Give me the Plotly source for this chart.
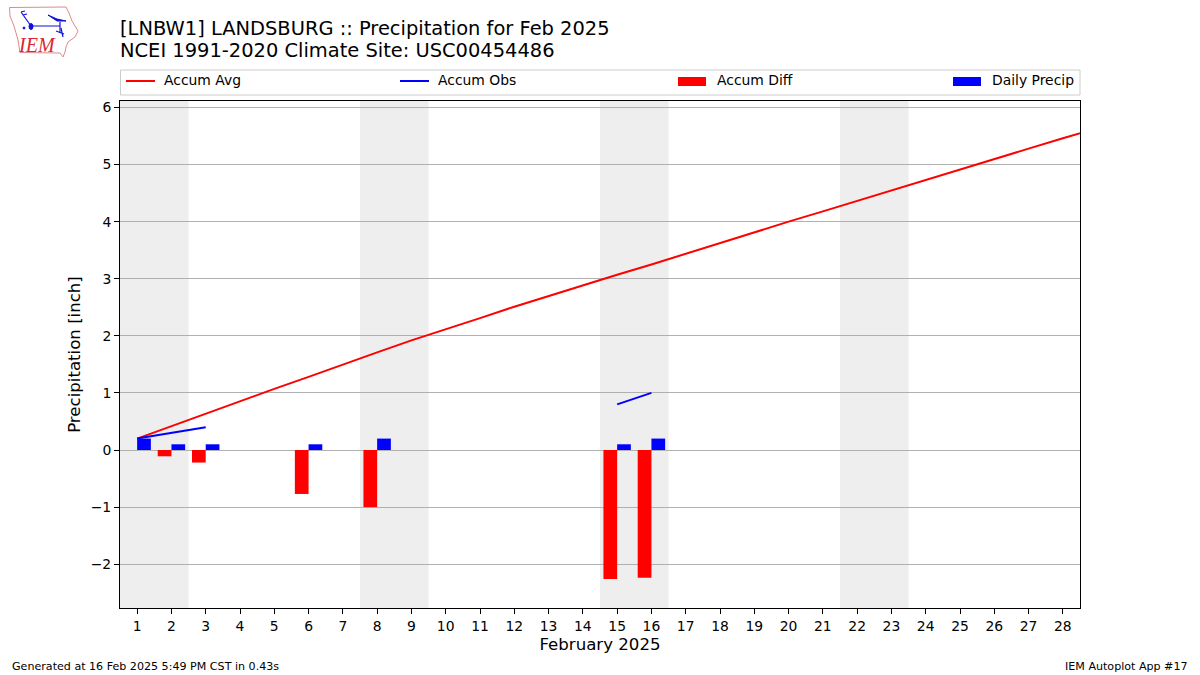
import base64

import plotly.graph_objects as go

FONT = "DejaVu Sans"

days = list(range(1, 30))
tick_days = list(range(1, 29))
accum_avg = [0.20, 0.42, 0.64, 0.85, 1.07, 1.28, 1.50, 1.71, 1.92, 2.11,
             2.31, 2.51, 2.70, 2.89, 3.07, 3.25, 3.44, 3.63, 3.81, 4.00,
             4.18, 4.365, 4.55, 4.73, 4.92, 5.10, 5.28, 5.46, 5.64]

obs_days = [1, 2, 3, None, 15, 16]
accum_obs = [0.2, 0.3, 0.4, None, 0.8, 1.0]

precip_days = [1, 2, 3, 6, 8, 15, 16]
daily_precip = [0.2, 0.1, 0.1, 0.1, 0.2, 0.1, 0.2]
accum_diff = [0.0, -0.11, -0.22, -0.77, -1.0, -2.26, -2.24]

weekend_spans = [(0.5, 2.5), (7.5, 9.5), (14.5, 16.5), (21.5, 23.5)]

title_lines = [
    "[LNBW1] LANDSBURG :: Precipitation for Feb 2025",
    "NCEI 1991-2020 Climate Site: USC00454486",
]

legend_labels = ["Accum Avg", "Accum Obs", "Accum Diff", "Daily Precip"]
legend_kinds = ["line", "line", "bar", "bar"]
legend_colors = ["#ff0000", "#0000ff", "#ff0000", "#0000ff"]
legend_starts = [126, 400, 678, 953]

PLOT_L, PLOT_R, PLOT_T, PLOT_B = 120, 1080, 101, 608


def px(x):
    return (x - PLOT_L) / (PLOT_R - PLOT_L)


def py(y):
    return (PLOT_B - y) / (PLOT_B - PLOT_T)


def logo_uri():
    # rough trace of the IEM state outline and weather station glyph
    svg = """<svg xmlns="http://www.w3.org/2000/svg" width="80" height="60" viewBox="0 0 80 60">
<path d="M9.5 7.5 L66 7 L69 13 L72 21 L78 31 L75 37 L68 42 L66 47 L65 52 L63 57 L60 53 L20 52.5 L18 40 L14 26 L10 16 Z"
 fill="none" stroke="#e08a8a" stroke-width="1"/>
<g stroke="#1010d8" fill="#1010d8">
<path d="M31 26 H60 M60 22 L60 33 M21 12 L31 26 M21 12 L25 11 M23 15 L27 14" stroke-width="1.2" fill="none"/>
<ellipse cx="31" cy="26.5" rx="2" ry="3"/>
<path d="M48 15 L57 19 L66 21 L57 21 Z"/>
<path d="M56 31 L64 34 M61 28 L63 37" stroke-width="1.2"/>
<circle cx="24" cy="28" r="1"/>
</g>
</svg>"""
    return "data:image/svg+xml;base64," + base64.b64encode(svg.encode()).decode()


fig = go.Figure()
fig.add_trace(go.Scatter(x=days, y=accum_avg, mode="lines", name="Accum Avg",
                         line={"color": "#ff0000", "width": 2}))
fig.add_trace(go.Scatter(x=obs_days, y=accum_obs, mode="lines", name="Accum Obs",
                         line={"color": "#0000ff", "width": 2}))
fig.add_trace(go.Bar(x=precip_days, y=accum_diff, name="Accum Diff", width=0.4, offset=-0.4,
                     marker={"color": "#ff0000", "line": {"width": 0}}))
fig.add_trace(go.Bar(x=precip_days, y=daily_precip, name="Daily Precip", width=0.4, offset=0,
                     marker={"color": "#0000ff", "line": {"width": 0}}))

for x0, x1 in weekend_spans:
    fig.add_shape(type="rect", x0=x0, x1=x1, y0=0, y1=1, xref="x", yref="paper",
                  fillcolor="#eeeeee", line={"width": 0}, layer="below")

annotations = []
for text, y in zip(title_lines, [29, 51]):
    annotations.append({"text": text, "x": 0, "y": py(y), "xref": "paper", "yref": "paper",
                        "xanchor": "left", "yanchor": "middle", "showarrow": False,
                        "xshift": -2, "font": {"size": 19.45, "color": "#000000"}})
annotations.append({"text": "Generated at 16 Feb 2025 5:49 PM CST in 0.43s", "x": px(12), "y": py(666),
                    "xref": "paper", "yref": "paper", "xanchor": "left", "yanchor": "middle",
                    "showarrow": False, "xshift": -2, "font": {"size": 11.1, "color": "#000000"}})
annotations.append({"text": "IEM Autoplot App #17", "x": px(1188), "y": py(666),
                    "xref": "paper", "yref": "paper", "xanchor": "right", "yanchor": "middle",
                    "showarrow": False, "xshift": 2, "font": {"size": 11.1, "color": "#000000"}})
annotations.append({"text": "<i>IEM</i>", "x": px(37), "y": py(45), "xref": "paper", "yref": "paper",
                    "xanchor": "center", "yanchor": "middle", "showarrow": False,
                    "font": {"size": 20, "color": "#d8282f", "family": "Liberation Serif"}})

# legend is drawn by hand: plotly can't do a full width box with wide bar swatches
fig.add_shape(type="rect", x0=px(120.5), x1=px(1080), y0=py(95), y1=py(70), xref="paper", yref="paper",
              line={"color": "#cccccc", "width": 1}, fillcolor="#ffffff", layer="above")
for label, kind, color, start in zip(legend_labels, legend_kinds, legend_colors, legend_starts):
    if kind == "line":
        fig.add_shape(type="line", x0=px(start), x1=px(start + 29), y0=py(81), y1=py(81),
                      xref="paper", yref="paper", line={"color": color, "width": 2}, layer="above")
        text_x = start + 38
    else:
        fig.add_shape(type="rect", x0=px(start), x1=px(start + 28), y0=py(86), y1=py(77),
                      xref="paper", yref="paper", fillcolor=color, line={"width": 0}, layer="above")
        text_x = start + 39
    annotations.append({"text": label, "x": px(text_x), "y": py(80.5), "xref": "paper", "yref": "paper",
                        "xanchor": "left", "yanchor": "middle", "showarrow": False,
                        "xshift": -2, "font": {"size": 13.9, "color": "#000000"}})

fig.update_layout(
    width=1200,
    height=675,
    margin={"l": PLOT_L, "r": 1200 - PLOT_R, "t": PLOT_T, "b": 675 - PLOT_B, "autoexpand": False},
    paper_bgcolor="#ffffff",
    plot_bgcolor="#ffffff",
    font={"family": FONT, "size": 13.9, "color": "#000000"},
    barmode="overlay",
    showlegend=False,
    annotations=annotations,
    images=[{"source": logo_uri(), "xref": "paper", "yref": "paper", "x": px(0), "y": py(0),
             "sizex": 80 / (PLOT_R - PLOT_L), "sizey": 60 / (PLOT_B - PLOT_T), "sizing": "stretch",
             "xanchor": "left", "yanchor": "top", "layer": "above"}],
    xaxis={"range": [0.5, 28.5], "tickmode": "array", "tickvals": tick_days,
           "ticks": "outside", "ticklen": 5, "tickcolor": "#000000", "showgrid": False, "zeroline": False,
           "showline": True, "mirror": True, "linecolor": "#000000", "linewidth": 1,
           "title": {"text": "February 2025", "font": {"size": 16.6}, "standoff": 5}},
    yaxis={"range": [-2.768, 6.114], "tickmode": "array", "tickvals": [-2, -1, 0, 1, 2, 3, 4, 5, 6],
           "ticks": "outside", "ticklen": 5, "tickcolor": "#000000",
           "showgrid": True, "gridcolor": "#b0b0b0", "gridwidth": 1, "zeroline": False,
           "showline": True, "mirror": True, "linecolor": "#000000", "linewidth": 1,
           "title": {"text": "Precipitation [inch]", "font": {"size": 16.6}, "standoff": 5}},
)

fig.write_html("out.html", post_script="document.body.style.margin = '0';",
               config={"displayModeBar": False})
